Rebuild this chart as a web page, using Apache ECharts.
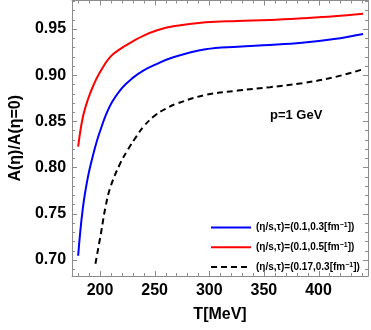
<!DOCTYPE html>
<html><head><meta charset="utf-8">
<script src="https://cdn.jsdelivr.net/npm/echarts@6/dist/echarts.min.js"></script>
<style>html,body{margin:0;padding:0;background:#fff}#c{width:371px;height:330px}</style>
</head><body><div id="c"></div>
<script>
// data
const redT = [180, 184.1, 189, 194, 199.4, 208.8, 220, 230, 240, 252.4, 267, 296.6, 326, 355.5, 384.9, 414.3, 440.8];
const redV = [0.8226, 0.8533, 0.8739, 0.889, 0.902, 0.919, 0.9295, 0.9365, 0.9428, 0.9485, 0.9528, 0.9572, 0.9586, 0.9597, 0.9615, 0.9637, 0.9665];
const blueT = [180, 184.1, 189, 194, 199.4, 208.8, 220, 230, 240, 250, 267.1, 296.6, 326, 355.5, 384.9, 414.3, 440.8];
const blueV = [0.7043, 0.7541, 0.790, 0.815, 0.837, 0.8659, 0.8858, 0.897, 0.905, 0.911, 0.9193, 0.928, 0.9308, 0.9326, 0.935, 0.939, 0.9445];
const blackT = [195.8, 200.9, 205, 209.7, 218.6, 225.9, 233.2, 240, 250, 260, 270, 296.6, 326, 355.5, 384.9, 414.3, 440.8];
const blackV = [0.6957, 0.7289, 0.757, 0.7793, 0.8046, 0.820, 0.8334, 0.8445, 0.856, 0.8635, 0.869, 0.8785, 0.8832, 0.8869, 0.8912, 0.8977, 0.9063];
const xMajor = [200, 250, 300, 350, 400];
const xMinor = [180,190,210,220,230,240,260,270,280,290,310,320,330,340,360,370,380,390,410,420,430,440];
const yMajor = [0.70, 0.75, 0.80, 0.85, 0.90, 0.95];
const yMinor = [0.69,0.71,0.72,0.73,0.74,0.76,0.77,0.78,0.79,0.81,0.82,0.83,0.84,0.86,0.87,0.88,0.89,0.91,0.92,0.93,0.94,0.96,0.97,0.98];
const seriesNames = ['blue', 'red', 'black'];

const X0 = 174.4, X1 = 445.3, Y0 = 0.6824, Y1 = 0.9808;
const frame = '#8c8c8c';
const FONT = '"Liberation Sans", Arial, sans-serif';
function zip(a, b) { return a.map((v, i) => [v, b[i]]); }

const chart = echarts.init(document.getElementById('c'), null, { renderer: 'canvas' });

const axisCommon = {
  axisLine: { show: true, onZero: false, lineStyle: { color: frame, width: 1 } },
  axisTick: { show: false },
  splitLine: { show: false }
};
const legendLabels = {
  blue: '(η/s,τ)=(0.1,0.3[fm{sup|−1}])',
  red: '(η/s,τ)=(0.1,0.5[fm{sup|−1}])',
  black: '(η/s,τ)=(0.17,0.3[fm{sup|−1}])'
};

// tick marks drawn through the axis scales
const MAJ = 5, MIN = 3;
const xTickData = xMajor.map(v => [v, MAJ]).concat(xMinor.map(v => [v, MIN]));
const yTickData = yMajor.map(v => [v, MAJ]).concat(yMinor.map(v => [v, MIN]));
const tickStyle = { stroke: frame, lineWidth: 1 };
function xTicks(params, api) {
  const v = api.value(0), len = api.value(1);
  const b = api.coord([v, Y0]), t = api.coord([v, Y1]);
  const x = Math.round(b[0]) + 0.5;
  return { type: 'group', children: [
    { type: 'line', shape: { x1: x, y1: b[1], x2: x, y2: b[1] - len }, style: tickStyle },
    { type: 'line', shape: { x1: x, y1: t[1], x2: x, y2: t[1] + len }, style: tickStyle }
  ]};
}
function yTicks(params, api) {
  const v = api.value(0), len = api.value(1);
  const l = api.coord([X0, v]), r = api.coord([X1, v]);
  const y = Math.round(l[1]) + 0.5;
  return { type: 'group', children: [
    { type: 'line', shape: { x1: l[0], y1: y, x2: l[0] + len, y2: y }, style: tickStyle },
    { type: 'line', shape: { x1: r[0], y1: y, x2: r[0] - len, y2: y }, style: tickStyle }
  ]};
}

chart.setOption({
  animation: false,
  grid: { left: 62, right: 3, top: 0.5, bottom: 54 },
  xAxis: [
    Object.assign({}, axisCommon, {
      type: 'value', position: 'bottom', min: X0, max: X1,
      axisLabel: { show: true, customValues: xMajor, color: '#000', fontFamily: FONT, fontWeight: 'bold', fontSize: 16, margin: 7 },
      name: 'T[MeV]', nameLocation: 'middle', nameGap: 31,
      nameTextStyle: { color: '#000', fontFamily: FONT, fontWeight: 'bold', fontSize: 16 }
    }),
    Object.assign({}, axisCommon, { type: 'value', position: 'top', min: X0, max: X1, axisLabel: { show: false } })
  ],
  yAxis: [
    Object.assign({}, axisCommon, {
      type: 'value', position: 'left', min: Y0, max: Y1,
      axisLabel: { show: true, customValues: yMajor, color: '#000', fontFamily: FONT, fontWeight: 'bold', fontSize: 16, margin: 6, formatter: v => v.toFixed(2) },
      name: 'A(η)/A(η=0)', nameLocation: 'middle', nameGap: 45, nameRotate: 90,
      nameTextStyle: { color: '#000', fontFamily: FONT, fontWeight: 'bold', fontSize: 16 }
    }),
    Object.assign({}, axisCommon, { type: 'value', position: 'right', min: Y0, max: Y1, axisLabel: { show: false } })
  ],
  legend: {
    orient: 'vertical', left: 205, top: 216.5, itemWidth: 40, itemHeight: 10, itemGap: 8.8,
    data: seriesNames,
    itemStyle: { opacity: 0 },
    formatter: n => legendLabels[n],
    textStyle: {
      color: '#000', fontFamily: FONT, fontWeight: 'bold', fontSize: 10,
      rich: { sup: { fontSize: 7, fontWeight: 'bold', fontFamily: FONT, verticalAlign: 'top', padding: [0, 0, 5, 0] } }
    }
  },
  graphic: [{
    type: 'text', left: 270, top: 109,
    style: { text: 'p=1 GeV', fill: '#000', font: 'bold 13px "Liberation Sans", Arial, sans-serif' }
  }],
  series: [
    { name: 'xticks', type: 'custom', renderItem: xTicks, data: xTickData, clip: false, silent: true, z: 5 },
    { name: 'yticks', type: 'custom', renderItem: yTicks, data: yTickData, clip: false, silent: true, z: 5 },
    { name: 'blue', type: 'line', data: zip(blueT, blueV), smooth: 0.4, symbol: 'none', lineStyle: { color: '#0000ff', width: 2 }, itemStyle: { color: '#0000ff' } },
    { name: 'red', type: 'line', data: zip(redT, redV), smooth: 0.4, symbol: 'none', lineStyle: { color: '#ff0000', width: 2 }, itemStyle: { color: '#ff0000' } },
    { name: 'black', type: 'line', data: zip(blackT, blackV), smooth: 0.4, symbol: 'none', lineStyle: { color: '#000', width: 2, type: [6, 4] }, itemStyle: { color: '#000' } }
  ]
});
</script></body></html>
